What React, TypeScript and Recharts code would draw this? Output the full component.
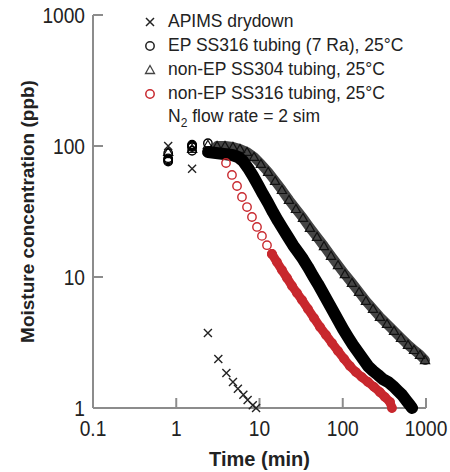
import React from 'react';
import { ScatterChart, Scatter, XAxis, YAxis, Legend } from 'recharts';

const FONT = "'Liberation Sans', Arial, Helvetica, sans-serif";
const RED = '#c8282e';
const AXIS = '#8c8c8c';
const TEXT = '#222';

const xTicks = [0.1, 1, 10, 100, 1000];
const yTicks = [1, 10, 100, 1000];

// APIMS drydown (x markers)
const apimsT = [0.8, 1.55, 2.4, 3.2, 4.0, 4.8, 5.5, 6.4, 7.2, 8.3, 9.1];
const apimsC = [100, 67, 3.74, 2.37, 1.85, 1.58, 1.4, 1.26, 1.15, 1.05, 1.0];

// EP SS316 tubing (7 Ra), 25°C
const epEarlyT = [0.8, 0.8, 0.8, 0.8, 0.8, 1.55, 1.55, 1.55, 1.55, 1.55, 2.4];
const epEarlyC = [76, 77.5, 79, 80.5, 88, 92, 98, 99.5, 101, 102.5, 105];
const epT = [2.41, 3.0, 3.75, 4.67, 5.52, 6.34, 7.27, 8.35, 9.6, 11.0, 12.7, 14.5, 16.7, 19.2, 22.0, 25.3, 29.0, 33.3, 38.2, 43.9, 50.4, 57.9, 66.5, 76.4, 87.7, 100.7, 115.6, 132.8, 152.5, 175, 201, 231, 265, 304, 350, 402, 461, 515, 575, 643, 680];
const epC = [90, 88.4, 86.9, 85.4, 82.4, 76.8, 68, 59, 50.4, 43, 36.7, 31.3, 26.8, 23.2, 20.2, 17.5, 15.5, 13.7, 11.9, 10.2, 8.84, 7.55, 6.45, 5.5, 4.7, 4.01, 3.48, 3.03, 2.68, 2.37, 2.09, 1.92, 1.79, 1.66, 1.58, 1.47, 1.35, 1.26, 1.15, 1.05, 1.0];

// non-EP SS304 tubing, 25°C
const triEarlyT = [0.8, 1.55, 2.4];
const triEarlyC = [90, 95, 102];
const triT = [3.09, 3.85, 4.8, 5.83, 7.08, 8.59, 10.4, 12.7, 15.4, 18.6, 22.6, 27.4, 33.3, 40.4, 49.1, 59.5, 72.3, 87.7, 106, 129, 157, 190, 231, 280, 340, 413, 501, 608, 718, 847, 973];
const triC = [100, 100, 98.3, 94.9, 90, 82.4, 72.9, 63.3, 54.1, 46.1, 38.7, 33.0, 28.2, 23.7, 20.2, 17.2, 14.5, 12.3, 10.5, 9.0, 7.68, 6.56, 5.7, 4.95, 4.38, 3.87, 3.42, 3.03, 2.77, 2.54, 2.32];

// non-EP SS316 tubing, 25°C
const redSparseT = [3.96, 4.67, 5.37, 6.16, 7.08, 8.12, 9.33, 10.7, 12.3, 14.1];
const redSparseC = [74.2, 60.1, 49.5, 40.8, 34.2, 28.7, 24.1, 20.6, 17.5, 15.0];
const redT = [14.1, 16.2, 18.6, 21.4, 24.6, 28.2, 32.4, 38.2, 45.1, 53.3, 62.9, 74.3, 87.7, 104, 122, 144, 170, 201, 237, 280, 322, 370, 390];
const redC = [15.0, 13.0, 11.3, 9.83, 8.54, 7.55, 6.67, 5.70, 4.86, 4.15, 3.61, 3.13, 2.72, 2.37, 2.09, 1.88, 1.72, 1.58, 1.45, 1.32, 1.21, 1.11, 1.0];

const legendLabels = [
  'APIMS drydown',
  'EP SS316 tubing (7 Ra), 25°C',
  'non-EP SS304 tubing, 25°C',
  'non-EP SS316 tubing, 25°C',
];

const zip = (t: number[], c: number[]) => t.map((v, i) => ({ t: v, c: c[i] }));

const XMark = (p: any) => {
  const { cx, cy } = p;
  const s = 4;
  return (
    <path
      d={`M${cx - s},${cy - s}L${cx + s},${cy + s}M${cx - s},${cy + s}L${cx + s},${cy - s}`}
      stroke="#222"
      strokeWidth={1.4}
      fill="none"
    />
  );
};

const makeRing = (color: string) => (p: any) => (
  <circle cx={p.cx} cy={p.cy} r={4.2} fill="none" stroke={color} strokeWidth={1.4} />
);

const Tri = (p: any) => {
  const { cx, cy } = p;
  const s = 4.6;
  return (
    <path
      d={`M${cx},${cy - s}L${cx + s},${cy + s * 0.75}L${cx - s},${cy + s * 0.75}Z`}
      fill="none"
      stroke="#111"
      strokeWidth={1.2}
    />
  );
};

// condensed tick labels (horizontally compressed Liberation Sans)
const XTick = (p: any) => (
  <text
    transform={`translate(${p.x},${p.y + 16}) scale(0.87,1)`}
    textAnchor="middle"
    fontFamily={FONT}
    fontSize={22}
    fill={TEXT}
  >
    {String(p.payload.value)}
  </text>
);

const YTick = (p: any) => (
  <text
    transform={`translate(${p.x},${p.y + 8}) scale(0.87,1)`}
    textAnchor="end"
    fontFamily={FONT}
    fontSize={22}
    fill={TEXT}
  >
    {String(p.payload.value)}
  </text>
);

const LegendBox = () => {
  const row = { display: 'flex', alignItems: 'center', height: 24, whiteSpace: 'nowrap' as const };
  const txt = { marginLeft: 8, fontFamily: FONT, fontSize: 17.5, color: TEXT };
  const markers = [
    <path d="M6,6L14,14M6,14L14,6" stroke="#222" strokeWidth={1.5} fill="none" />,
    <circle cx={10} cy={10} r={4.2} fill="none" stroke="#222" strokeWidth={1.5} />,
    <path d="M10,5.5L14.5,13.5L5.5,13.5Z" fill="none" stroke="#444" strokeWidth={1.3} />,
    <circle cx={10} cy={10} r={4.2} fill="none" stroke={RED} strokeWidth={1.5} />,
  ];
  return (
    <div style={{ lineHeight: 1 }}>
      {legendLabels.map((l, i) => (
        <div key={l} style={row}>
          <svg width={20} height={20}>{markers[i]}</svg>
          <span style={txt}>{l}</span>
        </div>
      ))}
      <div style={row}>
        <svg width={20} height={20} />
        <span style={txt}>
          N<sub style={{ fontSize: 12 }}>2</sub> flow rate = 2 sim
        </span>
      </div>
    </div>
  );
};

const YTitle = (props: any) => {
  const vb = props.viewBox || { x: 0, y: 7, width: 85, height: 393 };
  const x = vb.x + 19;
  const y = vb.y + vb.height / 2;
  return (
    <text
      x={x}
      y={y}
      transform={`rotate(-90, ${x}, ${y})`}
      textAnchor="middle"
      dominantBaseline="central"
      fontFamily={FONT}
      fontWeight="bold"
      fontSize={19}
      fill={TEXT}
    >
      Moisture concentration (ppb)
    </text>
  );
};

const XTitle = (props: any) => {
  const vb = props.viewBox || { x: 85, y: 400, width: 333, height: 50 };
  const x = vb.x + vb.width / 2;
  const y = vb.y + 51;
  return (
    <text x={x} y={y} textAnchor="middle" dominantBaseline="central" fontFamily={FONT} fontWeight="bold" fontSize={20} fill={TEXT}>
      Time (min)
    </text>
  );
};

export default function App() {
  return (
    <div
      style={{
        width: 450,
        height: 472,
        paddingLeft: 8,
        paddingTop: 8,
        boxSizing: 'border-box',
        background: '#fff',
        overflow: 'hidden',
      }}
    >
      <style>{'html,body{margin:0;overflow:hidden;}'}</style>
      <ScatterChart width={442} height={464} margin={{ top: 7, right: 24, bottom: 14, left: 0 }}>
        <XAxis
          dataKey="t"
          type="number"
          scale="log"
          domain={[0.1, 1000]}
          ticks={xTicks}
          interval={0}
          height={50}
          tickSize={-10}
          tickMargin={22}
          tick={XTick}
          axisLine={{ stroke: AXIS, strokeWidth: 2 }}
          tickLine={{ stroke: AXIS, strokeWidth: 2 }}
          label={{ content: XTitle }}
        />
        <YAxis
          dataKey="c"
          type="number"
          scale="log"
          domain={[1, 1000]}
          ticks={yTicks}
          interval={0}
          width={85}
          tickSize={-10}
          tickMargin={18}
          tick={YTick}
          axisLine={{ stroke: AXIS, strokeWidth: 2 }}
          tickLine={{ stroke: AXIS, strokeWidth: 2 }}
          label={{ content: YTitle }}
        />
        <Legend
          layout="horizontal"
          verticalAlign="middle"
          align="center"
          wrapperStyle={{ left: 132, top: 2, width: 300, bottom: 'auto', right: 'auto' }}
          content={() => <LegendBox />}
        />
        <Scatter
          name="non-EP SS304 tubing, 25°C"
          data={zip(triT, triC)}
          shape={Tri}
          line={{ stroke: '#454545', strokeWidth: 10, strokeLinecap: 'round', strokeLinejoin: 'round' }}
          isAnimationActive={false}
        />
        <Scatter name="non-EP SS304 early" data={zip(triEarlyT, triEarlyC)} shape={Tri} isAnimationActive={false} />
        <Scatter
          name="EP SS316 tubing (7 Ra), 25°C"
          data={zip(epT, epC)}
          shape={makeRing('#000')}
          line={{ stroke: '#000', strokeWidth: 12, strokeLinecap: 'round', strokeLinejoin: 'round' }}
          isAnimationActive={false}
        />
        <Scatter name="EP SS316 early" data={zip(epEarlyT, epEarlyC)} shape={makeRing('#000')} isAnimationActive={false} />
        <Scatter
          name="non-EP SS316 tubing, 25°C"
          data={zip(redT, redC)}
          shape={makeRing(RED)}
          line={{ stroke: RED, strokeWidth: 9, strokeLinecap: 'round', strokeLinejoin: 'round' }}
          isAnimationActive={false}
        />
        <Scatter name="non-EP SS316 sparse" data={zip(redSparseT, redSparseC)} shape={makeRing(RED)} isAnimationActive={false} />
        <Scatter name="APIMS drydown" data={zip(apimsT, apimsC)} shape={XMark} isAnimationActive={false} />
      </ScatterChart>
    </div>
  );
}
